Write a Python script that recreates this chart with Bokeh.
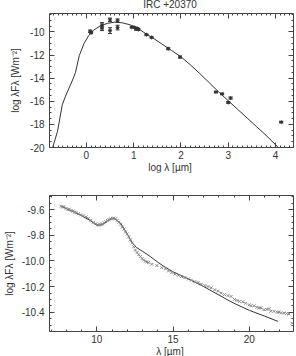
from bokeh.plotting import figure
from bokeh.layouts import column
from bokeh.models import (Range1d, LinearAxis, SingleIntervalTicker, PrintfTickFormatter,
                          Whisker, TeeHead, ColumnDataSource, Div)
from bokeh.embed import file_html
from bokeh.resources import INLINE

TITLE = "IRC +20370"
XLABEL_TOP = "log λ [µm]"
XLABEL_BOTTOM = "λ [µm]"
YLABEL = "log λFλ [Wm⁻²]"

# ---- top panel: photometry (log lambda, log lambda F_lambda) ----
phot_logwl = [0.08, 0.10, 0.33, 0.33, 0.50, 0.50, 0.66, 0.66, 0.96, 1.02, 1.05, 1.08, 1.10,
              1.27, 1.38, 1.73, 1.98, 2.74, 2.87, 3.00, 3.05, 4.12]
phot_logf = [-9.94, -10.05, -9.39, -9.68, -8.95, -9.88, -9.02, -9.62, -9.59, -9.62, -9.74,
             -9.70, -9.78, -10.24, -10.47, -11.45, -12.17, -15.20, -15.36, -16.10, -15.72, -17.80]
phot_err = [0.10, 0.10, 0.20, 0.20, 0.15, 0.25, 0.15, 0.20, 0.05, 0.05, 0.10, 0.05, 0.08,
            0.05, 0.05, 0.08, 0.08, 0.05, 0.05, 0.08, 0.08, 0.05]

model_logwl = [-0.72, -0.61, -0.51, -0.44, -0.30, -0.23, -0.15, -0.05, 0.05, 0.15, 0.30, 0.45,
               0.60, 0.75, 0.90, 1.00, 1.10, 1.20, 1.40, 1.60, 1.80, 2.00, 2.20, 2.40, 2.60,
               2.80, 3.00, 3.20, 3.40, 3.60, 3.80, 4.00, 4.08]
model_logf = [-20.1, -18.6, -16.3, -15.55, -14.24, -13.5, -12.04, -11.0, -10.3, -9.85, -9.45,
              -9.25, -9.15, -9.2, -9.35, -9.5, -9.7, -10.0, -10.5, -11.05, -11.6, -12.15,
              -12.85, -13.6, -14.4, -15.2, -15.95, -16.7, -17.45, -18.2, -18.95, -19.75, -20.1]

# ---- bottom panel: IRAS LRS spectrum ----
spec_wl = [7.66, 7.75, 7.85, 7.99, 8.10, 8.20, 8.31, 8.45, 8.55, 8.64, 8.80, 8.96, 9.10, 9.29,
           9.45, 9.61, 9.78, 9.94, 10.05, 10.15, 10.26, 10.37, 10.48, 10.58, 10.70, 10.80,
           10.91, 11.02, 11.12, 11.23, 11.34, 11.45, 11.56, 11.67, 11.78, 11.88, 11.99, 12.10,
           12.21, 12.32, 12.42, 12.53, 12.64, 12.75, 12.86, 12.97, 13.08, 13.18, 13.29, 13.40,
           13.61, 13.94, 14.26, 14.50, 14.70, 14.92, 15.13, 15.35, 15.56, 15.78, 16.00, 16.20,
           16.43, 16.65, 16.86, 17.08, 17.29, 17.50, 17.73, 17.95, 18.16, 18.38, 18.60, 18.81,
           19.03, 19.20, 19.35, 19.57, 19.76, 20.00, 20.11, 20.32, 20.50, 20.65, 20.76, 20.97,
           21.15, 21.30, 21.41, 21.62, 21.84, 21.95, 22.10, 22.27, 22.45, 22.60, 22.81]
spec_f = [-9.574, -9.580, -9.578, -9.590, -9.600, -9.596, -9.608, -9.612, -9.620, -9.623,
          -9.632, -9.641, -9.648, -9.657, -9.668, -9.683, -9.699, -9.710, -9.718, -9.722,
          -9.715, -9.712, -9.703, -9.694, -9.684, -9.678, -9.672, -9.668, -9.666, -9.672,
          -9.684, -9.698, -9.714, -9.736, -9.752, -9.775, -9.790, -9.812, -9.835, -9.860,
          -9.889, -9.915, -9.935, -9.952, -9.965, -9.982, -9.992, -10.003, -10.008, -10.012,
          -10.026, -10.036, -10.052, -10.062, -10.078, -10.090, -10.103, -10.112, -10.122,
          -10.130, -10.140, -10.150, -10.161, -10.168, -10.181, -10.192, -10.199, -10.210,
          -10.225, -10.236, -10.251, -10.262, -10.270, -10.277, -10.300, -10.308, -10.316,
          -10.318, -10.330, -10.342, -10.349, -10.350, -10.362, -10.367, -10.366, -10.380,
          -10.378, -10.372, -10.392, -10.393, -10.400, -10.398, -10.405, -10.406, -10.410,
          -10.414, -10.486]

smodel_wl = [7.66, 8.64, 9.50, 10.00, 10.37, 10.80, 11.13, 11.56, 12.00, 12.30, 12.60, 13.00,
             13.50, 14.00, 14.50, 15.00, 16.00, 16.86, 18.00, 18.60, 19.00, 20.00, 21.00, 21.88]
smodel_f = [-9.574, -9.626, -9.680, -9.722, -9.718, -9.680, -9.668, -9.705, -9.790, -9.855,
            -9.895, -9.925, -9.965, -10.010, -10.050, -10.085, -10.140, -10.190, -10.265,
            -10.305, -10.330, -10.385, -10.430, -10.471]

FONT = "Liberation Sans"
TXT = "#333333"
LINE = "#333333"

W, L, R = 296, 47, 3
FW = W - L - R  # frame width in px


def text_div(text, h):
    return Div(text=text, width=FW, height=h, margin=(0, 0, 0, L),
               styles={"font-family": FONT, "font-size": "10px", "color": TXT,
                       "line-height": f"{h}px", "text-align": "center",
                       "white-space": "nowrap", "overflow": "visible"})


def style_axes(p, xt, yt, xfmt, yfmt, ylabel):
    p.xgrid.visible = False
    p.ygrid.visible = False
    p.outline_line_color = "#444444"
    p.outline_line_width = 1
    for ax, t, f in ((p.xaxis[0], xt, xfmt), (p.yaxis[0], yt, yfmt)):
        ax.ticker = SingleIntervalTicker(interval=t[0], num_minor_ticks=t[1])
        ax.formatter = PrintfTickFormatter(format=f)
        ax.axis_label_text_font = FONT
        ax.axis_label_text_font_size = "10px"
        ax.axis_label_text_font_style = "normal"
        ax.axis_label_text_color = TXT
        ax.major_label_text_font = FONT
        ax.major_label_text_font_size = "10px"
        ax.major_label_text_color = TXT
        ax.axis_line_color = None
        ax.major_tick_in = 5
        ax.major_tick_out = 0
        ax.minor_tick_in = 2
        ax.minor_tick_out = 0
        ax.major_tick_line_color = "#444444"
        ax.minor_tick_line_color = "#444444"
        ax.major_label_standoff = 5
        ax.axis_label_standoff = 6
    p.yaxis[0].axis_label = ylabel
    p.xaxis[0].major_label_standoff = 3
    for side, t in (("above", xt), ("right", yt)):
        ax = LinearAxis(ticker=SingleIntervalTicker(interval=t[0], num_minor_ticks=t[1]),
                        major_label_text_color=None, major_label_text_font_size="1px",
                        major_label_standoff=0,
                        axis_line_color=None, major_tick_in=5, major_tick_out=0,
                        minor_tick_in=2, minor_tick_out=0,
                        major_tick_line_color="#444444", minor_tick_line_color="#444444")
        p.add_layout(ax, side)


# ---------------- top figure ----------------
p1 = figure(width=W, height=154, output_backend="svg", toolbar_location=None, title=None,
            x_range=Range1d(-0.78, 4.38), y_range=Range1d(-20.0, -8.4),
            min_border_left=L, min_border_right=R, min_border_top=3, min_border_bottom=17)
style_axes(p1, (1, 10), (2, 4), "%d", "%d", YLABEL)

p1.line(model_logwl, model_logf, line_color=LINE, line_width=1)
src = ColumnDataSource(dict(x=phot_logwl, y=phot_logf,
                            lo=[a - b for a, b in zip(phot_logf, phot_err)],
                            hi=[a + b for a, b in zip(phot_logf, phot_err)]))
p1.add_layout(Whisker(base="x", lower="lo", upper="hi", source=src, line_color="#333333",
                      line_width=1,
                      lower_head=TeeHead(size=4, line_color="#333333", line_width=1),
                      upper_head=TeeHead(size=4, line_color="#333333", line_width=1)))
p1.scatter("x", "y", source=src, marker="asterisk", size=4, line_color="#333333", line_width=1)

# ---------------- bottom figure ----------------
p2 = figure(width=W, height=176, output_backend="svg", toolbar_location=None, title=None,
            x_range=Range1d(6.9, 22.9), y_range=Range1d(-10.55, -9.49),
            min_border_left=L, min_border_right=R, min_border_top=23, min_border_bottom=17)
style_axes(p2, (5, 5), (0.2, 4), "%d", "%.1f", YLABEL)
p2.yaxis[0].axis_label_standoff = 4

p2.line(smodel_wl, smodel_f, line_color=LINE, line_width=1)
p2.scatter(spec_wl, spec_f, marker="x", size=4, line_color="#888888", line_width=1)

layout = column(text_div(TITLE, 10), p1, text_div(XLABEL_TOP, 8), p2,
                text_div(XLABEL_BOTTOM, 8), spacing=0)

open("out.html", "w").write(file_html(layout, INLINE))
